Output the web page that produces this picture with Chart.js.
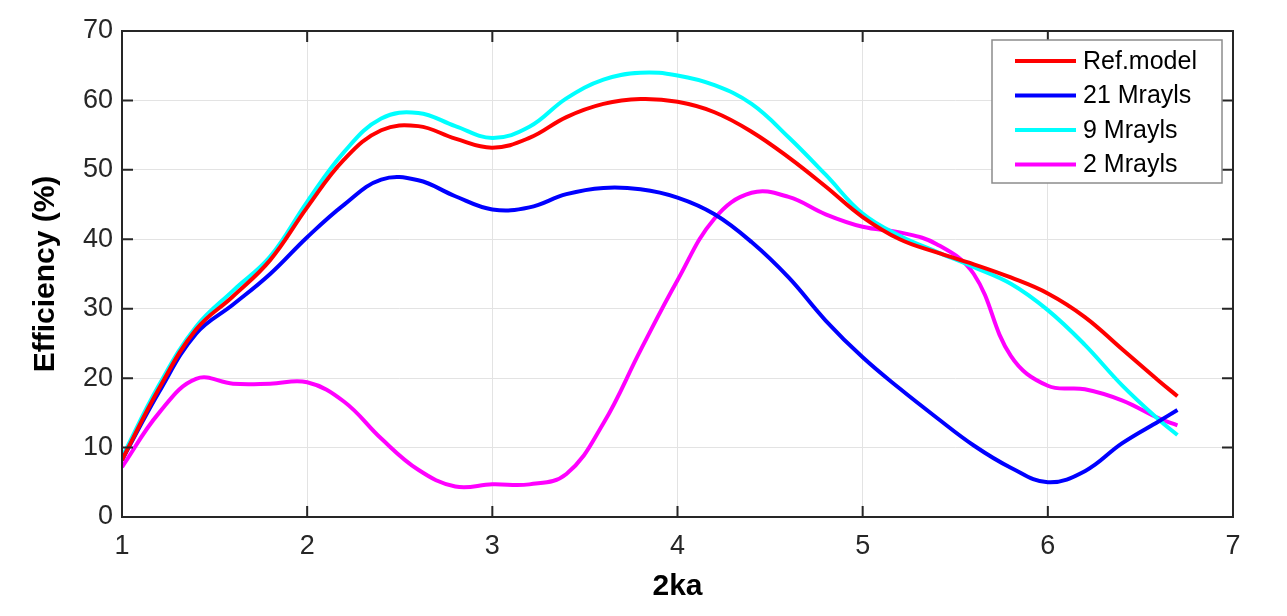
<!DOCTYPE html>
<html>
<head>
<meta charset="utf-8">
<script src="https://cdn.jsdelivr.net/npm/chart.js@4.4.1/dist/chart.umd.min.js"></script>
<style>
    html, body { margin: 0; padding: 0; background: #fff; }
    #wrap { width: 1287px; height: 616px; }
</style>
</head>
<body>
<div id="wrap"><canvas id="effChart" width="1287" height="616"></canvas></div>
<script>
// ===== DATA =====
const ka = [1.0, 1.2, 1.4, 1.6, 1.8, 2.0, 2.2, 2.4, 2.6, 2.8, 3.0, 3.2, 3.4, 3.6, 3.8,
            4.0, 4.2, 4.4, 4.6, 4.8, 5.0, 5.2, 5.4, 5.6, 5.8, 6.0, 6.2, 6.4, 6.6, 6.7];

const refModel = [8.2, 18.5, 27.0, 31.8, 37.0, 44.6, 51.5, 55.7, 56.3, 54.5, 53.2, 54.6, 57.6, 59.5, 60.2,
                  59.8, 58.3, 55.5, 51.8, 47.6, 43.2, 40.0, 38.1, 36.4, 34.5, 32.2, 28.8, 24.2, 19.6, 17.4];
const mrayls21 = [8.2, 18.0, 26.4, 30.6, 35.0, 40.3, 45.0, 48.6, 48.5, 46.2, 44.3, 44.6, 46.5, 47.4, 47.2,
                  46.0, 43.6, 39.6, 34.5, 28.3, 23.0, 18.5, 14.3, 10.3, 7.1, 5.0, 6.6, 10.6, 13.8, 15.4];
const mrayls9 = [8.6, 19.0, 27.4, 32.6, 37.5, 45.4, 52.6, 57.4, 58.2, 56.3, 54.6, 56.2, 60.3, 63.0, 64.0,
                 63.6, 62.2, 59.5, 54.7, 49.3, 43.7, 40.5, 38.2, 36.0, 33.6, 29.8, 24.8, 19.0, 14.0, 11.8];
const mrayls2 = [7.2, 15.0, 19.9, 19.2, 19.2, 19.4, 16.6, 11.3, 6.8, 4.4, 4.7, 4.7, 6.2, 13.5, 24.0,
                 34.1, 43.0, 46.7, 46.1, 43.6, 41.8, 41.0, 39.3, 35.0, 23.2, 18.9, 18.4, 16.8, 14.2, 13.2];

const seriesLabels = ['Ref.model', '21 Mrayls', '9 Mrayls', '2 Mrayls'];
const seriesColors = ['#ff0000', '#0000ff', '#00ffff', '#ff00ff'];
const seriesValues = [refModel, mrayls21, mrayls9, mrayls2];

const xTicks = [1, 2, 3, 4, 5, 6, 7];
const yTicks = [0, 10, 20, 30, 40, 50, 60, 70];

const FONT = '"Liberation Sans", Arial, Helvetica, sans-serif';
const AXIS_COLOR = '#262626';

// ===== PLUGINS =====
// box round the plot, with inward ticks on all four sides (matlab style)
const boxPlugin = {
    id: 'boxPlugin',
    afterDatasetsDraw(chart) {
        const { ctx, chartArea: a, scales } = chart;
        const len = 11;
        ctx.save();
        ctx.strokeStyle = AXIS_COLOR;
        ctx.lineWidth = 2;
        ctx.beginPath();
        xTicks.forEach(v => {
            const px = scales.x.getPixelForValue(v);
            ctx.moveTo(px, a.bottom); ctx.lineTo(px, a.bottom - len);
            ctx.moveTo(px, a.top); ctx.lineTo(px, a.top + len);
        });
        yTicks.forEach(v => {
            const py = scales.y.getPixelForValue(v);
            ctx.moveTo(a.left, py); ctx.lineTo(a.left + len, py);
            ctx.moveTo(a.right, py); ctx.lineTo(a.right - len, py);
        });
        ctx.stroke();
        ctx.strokeRect(a.left, a.top, a.right - a.left, a.bottom - a.top);
        ctx.restore();
    }
};

// legend box in the upper right corner
const legendBox = {
    id: 'legendBox',
    afterDraw(chart) {
        const { ctx, chartArea: a } = chart;
        const boxW = 230, boxH = 143;
        const x0 = a.right - 11 - boxW, y0 = a.top + 9;
        ctx.save();
        ctx.fillStyle = '#fff';
        ctx.fillRect(x0, y0, boxW, boxH);
        ctx.strokeStyle = '#8c8c8c';
        ctx.lineWidth = 1.5;
        ctx.strokeRect(x0, y0, boxW, boxH);
        ctx.font = '25px ' + FONT;
        ctx.textBaseline = 'middle';
        ctx.textAlign = 'left';
        chart.data.datasets.forEach((ds, i) => {
            const cy = y0 + 21 + i * 34.5;
            ctx.strokeStyle = ds.borderColor;
            ctx.lineWidth = 4;
            ctx.beginPath();
            ctx.moveTo(x0 + 23, cy);
            ctx.lineTo(x0 + 84, cy);
            ctx.stroke();
            ctx.fillStyle = '#000';
            ctx.fillText(ds.label, x0 + 91, cy + 1);
        });
        ctx.restore();
    }
};

// ===== CHART =====
new Chart(document.getElementById('effChart'), {
    type: 'line',
    data: {
        datasets: seriesLabels.map((name, i) => ({
            label: name,
            data: ka.map((k, j) => ({ x: k, y: seriesValues[i][j] })),
            borderColor: seriesColors[i],
            borderWidth: 4,
            pointRadius: 0,
            fill: false,
            tension: 0.4
        }))
    },
    options: {
        responsive: false,
        animation: false,
        layout: { padding: { top: 31, right: 54, left: 0, bottom: 0 } },
        plugins: {
            legend: { display: false },
            tooltip: { enabled: false }
        },
        scales: {
            x: {
                type: 'linear',
                min: 1,
                max: 7,
                afterFit(scale) { scale.height = 99; },
                afterBuildTicks(scale) { scale.ticks = xTicks.map(v => ({ value: v })); },
                grid: { color: '#e3e3e3', lineWidth: 1, drawTicks: false },
                border: { display: false },
                ticks: { padding: 13, color: AXIS_COLOR, font: { family: FONT, size: 27 } },
                title: {
                    display: true,
                    text: '2ka',
                    color: '#000',
                    padding: { top: 0, bottom: 11 },
                    font: { family: FONT, size: 30, weight: 'bold' }
                }
            },
            y: {
                min: 0,
                max: 70,
                afterFit(scale) { scale.width = 122; },
                afterBuildTicks(scale) { scale.ticks = yTicks.map(v => ({ value: v })); },
                grid: { color: '#e3e3e3', lineWidth: 1, drawTicks: false },
                border: { display: false },
                ticks: { padding: 9, color: AXIS_COLOR, font: { family: FONT, size: 27 } },
                title: {
                    display: true,
                    text: 'Efficiency (%)',
                    color: '#000',
                    padding: { top: 28, bottom: 0 },
                    font: { family: FONT, size: 30, weight: 'bold' }
                }
            }
        }
    },
    plugins: [boxPlugin, legendBox]
});
</script>
</body>
</html>
